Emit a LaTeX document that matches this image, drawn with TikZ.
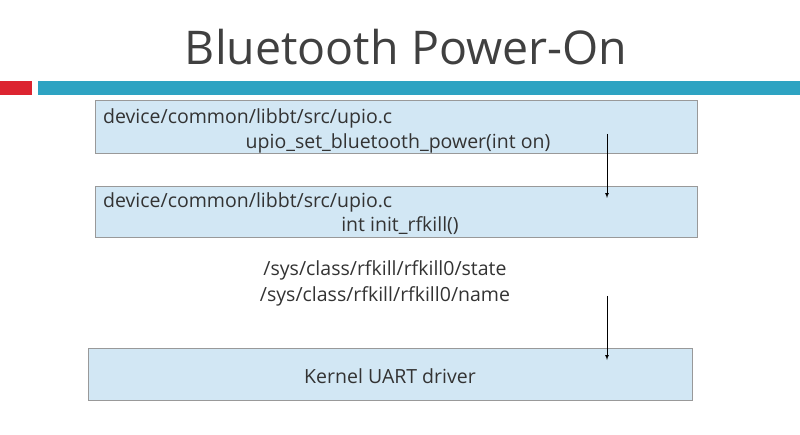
\documentclass[tikz,border=0pt]{standalone}
\usepackage{fontspec}
\setmainfont{Open Sans}
\definecolor{boxfill}{HTML}{D2E7F4}
\definecolor{barblue}{HTML}{2EA3C2}
\definecolor{barred}{HTML}{DC2430}
\begin{document}
\begin{tikzpicture}[x=1pt,y=-1pt,
  box/.style={draw=black!40,fill=boxfill,line width=0.8pt},
  txt/.style={font=\fontsize{19.5}{22}\selectfont,text=black!80,inner sep=0pt},
  arr/.style={-latex,line width=0.7pt}]
\useasboundingbox (0,0) rectangle (800,435);
\node[font=\fontsize{46.5}{52}\selectfont,text=black!75] (title) at (406,47) {Bluetooth Power-On};
\fill[barred] (0,81) rectangle (32,95);
\fill[barblue] (38,81) rectangle (800,95);
\draw[box] (95,100) rectangle (697,153);
\draw[box] (95,186) rectangle (697,237);
\draw[box] (88,348) rectangle (692,400);
\node[txt,anchor=west] (a1) at (103,118) {device/common/libbt/src/upio.c};
\node[txt] (a2) at (398,143) {upio\_set\_bluetooth\_power(int on)};
\node[txt,anchor=west] (b1) at (103,202) {device/common/libbt/src/upio.c};
\node[txt] (b2) at (400,226) {int init\_rfkill()};
\node[txt] (s1) at (385,270) {/sys/class/rfkill/rfkill0/state};
\node[txt] (s2) at (385,296) {/sys/class/rfkill/rfkill0/name};
\node[txt] (k) at (390,376) {Kernel UART driver};
\coordinate (p1) at (607,134); \coordinate (q1) at (607,198);
\coordinate (p2) at (607,296); \coordinate (q2) at (607,360);
\draw[arr] (p1) -- (q1);
\draw[arr] (p2) -- (q2);
\end{tikzpicture}
\end{document}
